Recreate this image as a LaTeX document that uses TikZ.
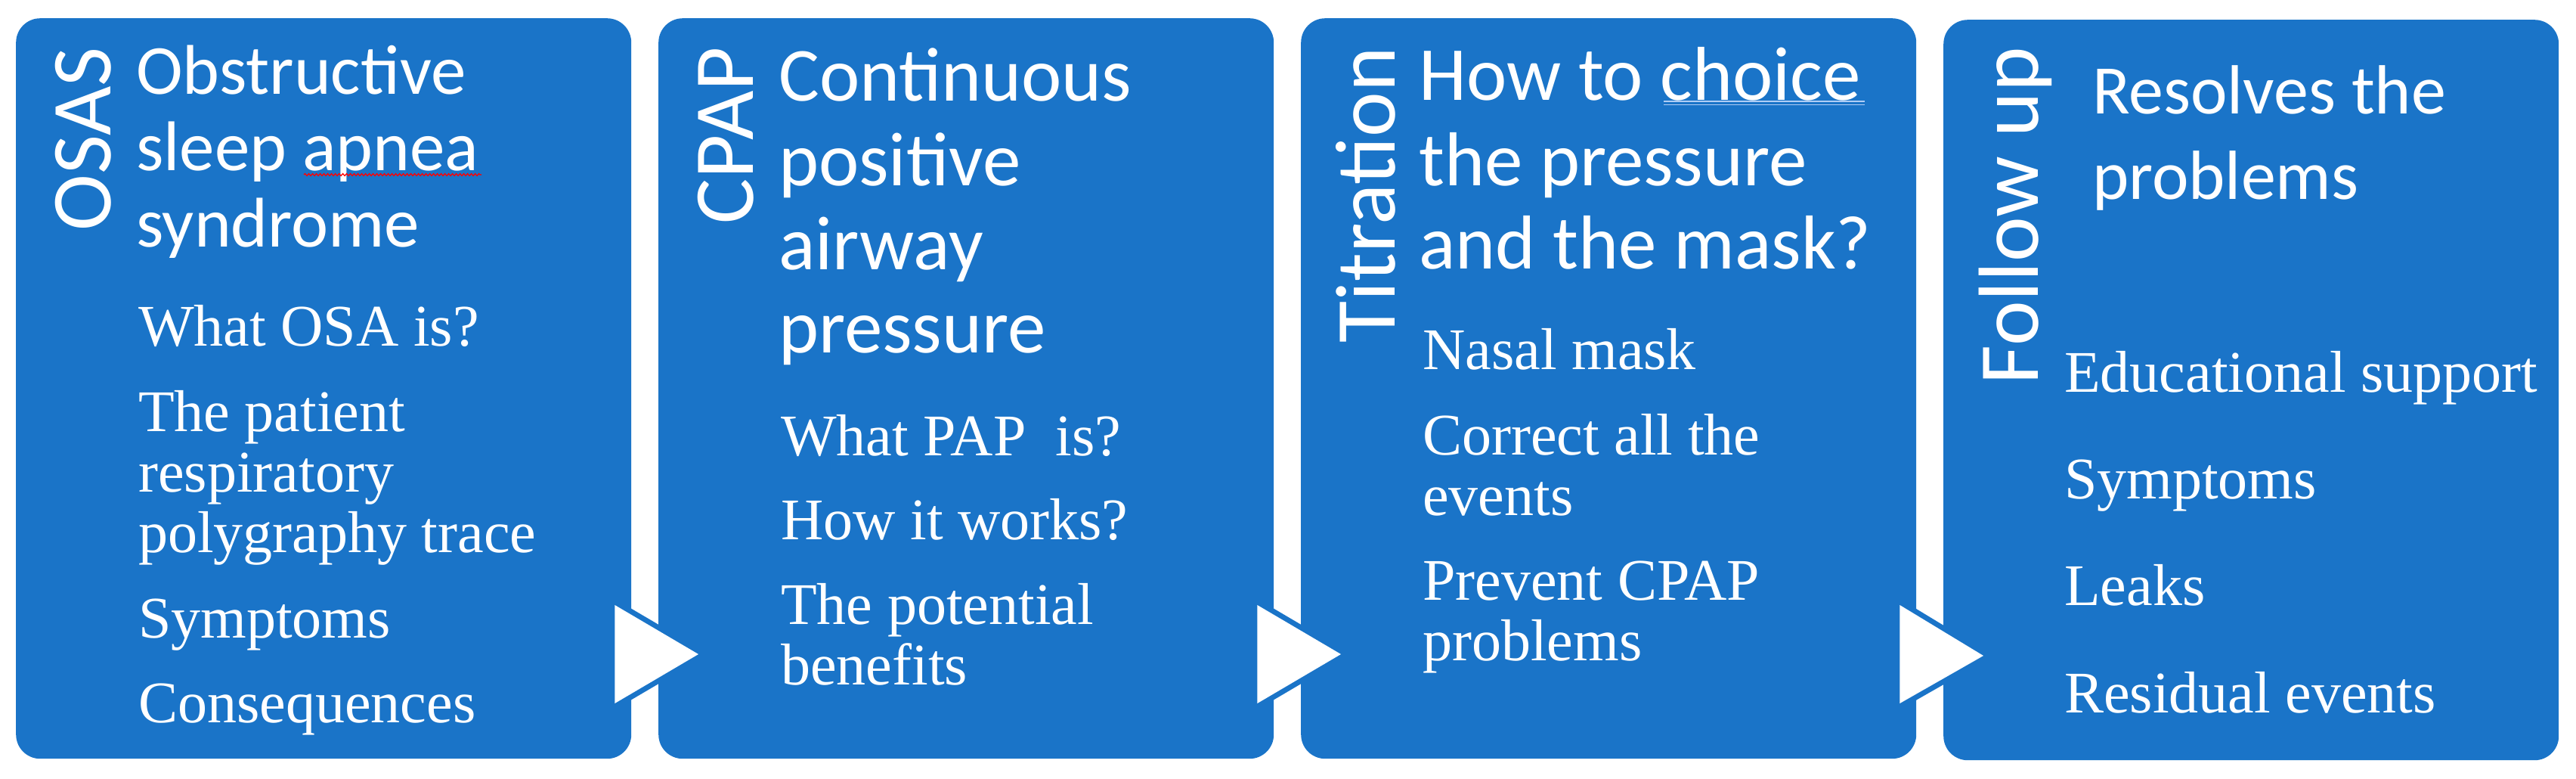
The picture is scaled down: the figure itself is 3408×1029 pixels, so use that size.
\documentclass[tikz,border=0pt]{standalone}
\usepackage{fontspec}
\setmainfont{Liberation Serif}
\newfontfamily\headfont{Carlito}
\usetikzlibrary{calc,decorations.pathmorphing}
\definecolor{boxblue}{RGB}{26,116,200}
\definecolor{gramblue}{RGB}{175,205,245}
\begin{document}
\begin{tikzpicture}[x=1pt,y=-1pt,
  box/.style={fill=boxblue, rounded corners=32pt, minimum width=814pt, minimum height=979pt, inner sep=0pt, anchor=north west},
  hd/.style={anchor=base west, inner sep=0pt, text=white, font=\headfont\fontsize{#1}{#1}\selectfont},
  itm/.style={anchor=base west, inner sep=0pt, text=white, font=\fontsize{78}{80}\selectfont},
  vlab/.style={anchor=base east, rotate=90, inner sep=0pt, text=white, font=\headfont\fontsize{113}{113}\selectfont},
  arrowline/.style={draw=boxblue, line width=14pt, line join=miter},
  arrowfill/.style={fill=white}]
\useasboundingbox (0,0) rectangle (3408,1029);

% boxes
\node[box] (b1) at (21,24) {};
\node[box] (b2) at (871,24) {};
\node[box] (b3) at (1721,24) {};
\node[box] (b4) at (2571,26) {};

% arrows
\foreach \a/\b in {b1/b2, b2/b3, b3/b4}{
  \draw[arrowline] ($(\a.north east)+(-22,776)$) -- ($(\b.north west)+(53,841)$) -- ($(\a.north east)+(-22,906)$) -- cycle;
  \fill[arrowfill] ($(\a.north east)+(-22,776)$) -- ($(\b.north west)+(53,841)$) -- ($(\a.north east)+(-22,906)$) -- cycle;
}

% vertical labels
\node[vlab] (v1) at (146,62) {OSAS};
\node[vlab] (v2) at (996,62) {CPAP};
\node[vlab] (v3) at (1845,62) {Titration};
\node[vlab] (v4) at (2696,62) {Follow up};

% box 1
\node[hd=93] (h11) at (180,124) {Obstructive};
\node[hd=93] (h12) at (180,225) {sleep apnea};
\node[hd=93] (h13) at (180,326) {syndrome};
\draw[red, line width=1.3pt, decorate, decoration={snake, amplitude=1.4pt, segment length=5pt}] (402,231) -- (637,231);
\node[itm] (i11) at (183,457) {What OSA is?};
\node[itm] (i12) at (183,570) {The patient};
\node[itm] (i13) at (183,650) {respiratory};
\node[itm] (i14) at (183,730) {polygraphy trace};
\node[itm] (i15) at (183,843) {Symptoms};
\node[itm] (i16) at (183,955) {Consequences};

% box 2
\node[hd=101] (h21) at (1030,133) {Continuous};
\node[hd=101] (h22) at (1030,245) {positive};
\node[hd=101] (h23) at (1030,356) {airway};
\node[hd=101] (h24) at (1030,466) {pressure};
\node[itm] (i21) at (1033,602) {What PAP\ \ is?};
\node[itm] (i22) at (1033,713) {How it works?};
\node[itm] (i23) at (1033,825) {The potential};
\node[itm] (i24) at (1033,905) {benefits};

% box 3
\node[hd=101] (h31) at (1877,132) {How to choice};
\node[hd=101] (h32) at (1877,245) {the pressure};
\node[hd=101] (h33) at (1877,355) {and the mask?};
\draw[gramblue, line width=1.3pt] (2201,134) -- (2467,134);
\draw[gramblue, line width=1.3pt] (2201,138.5) -- (2467,138.5);
\node[itm] (i31) at (1882,488) {Nasal mask};
\node[itm] (i32) at (1882,601) {Correct all the};
\node[itm] (i33) at (1882,681) {events};
\node[itm] (i34) at (1882,793) {Prevent CPAP};
\node[itm] (i35) at (1882,873) {problems};

% box 4
\node[hd=92] (h41) at (2768,150) {Resolves the};
\node[hd=92] (h42) at (2768,263) {problems};
\node[itm] (i41) at (2731,518) {Educational support};
\node[itm] (i42) at (2731,659) {Symptoms};
\node[itm] (i43) at (2731,800) {Leaks};
\node[itm] (i44) at (2731,942) {Residual events};
\end{tikzpicture}
\end{document}
